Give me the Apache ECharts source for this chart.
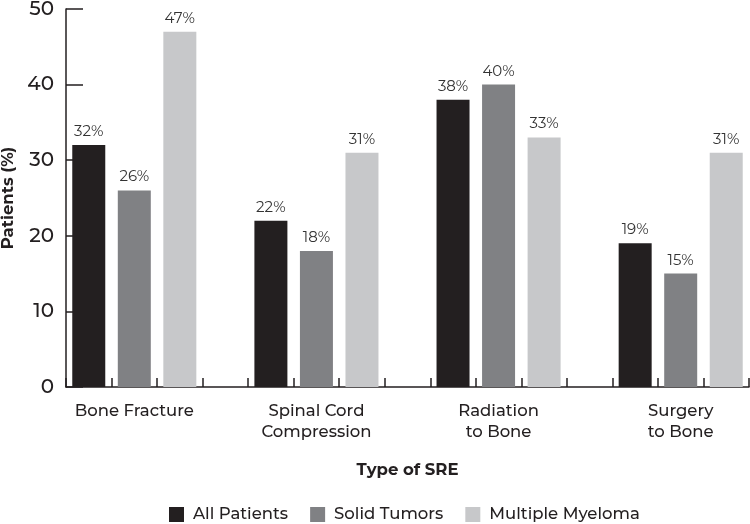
<!DOCTYPE html>
<html><head><meta charset="utf-8">
<script src="https://cdn.jsdelivr.net/npm/echarts@6/dist/echarts.min.js"></script>
<style>html,body{margin:0;padding:0;background:#fff}#c{width:750px;height:524px}</style>
</head><body><div id="c"></div>
<script>
const categories = ['Bone Fracture', 'Spinal Cord\nCompression', 'Radiation\nto Bone', 'Surgery\nto Bone'];
const seriesNames = ['All Patients', 'Solid Tumors', 'Multiple Myeloma'];
const allPatients = [32, 22, 38, 19];
const solidTumors = [26, 18, 40, 15];
const multipleMyeloma = [47, 31, 33, 31];
const yTicks = [0, 10, 20, 30, 40, 50];

const colors = ['#231f20', '#808184', '#c7c8ca'];
const values = [allPatients, solidTumors, multipleMyeloma];
// 15 slots: 3 bars per group + 1 gap slot between groups
const slotCount = categories.length * 4 - 1;
const slots = [];
for (let i = 0; i < slotCount; i++) slots.push('s' + i);
const labelAt = {};
categories.forEach((c, g) => { labelAt[g * 4 + 1] = c; });

const font = 'Montserrat, "Noto Sans", "DejaVu Sans", sans-serif';
const series = seriesNames.map((name, si) => {
  const data = slots.map(() => '-');
  values[si].forEach((v, g) => { data[g * 4 + si] = v; });
  return {
    name, type: 'bar', data, barWidth: 33, barGap: '-100%',
    itemStyle: { color: colors[si] },
    label: { show: true, position: 'top', distance: 6, formatter: '{c}%', color: '#333', fontSize: 15, fontFamily: font }
  };
});

const chart = echarts.init(document.getElementById('c'));
chart.setOption({
  animation: false,
  grid: { left: 66, right: 1, top: 9, bottom: 137, containLabel: false, outerBoundsMode: 'none' },
  legend: {
    bottom: -4, left: 164, itemWidth: 15, itemHeight: 15, itemGap: 22,
    icon: 'rect', textStyle: { fontSize: 16.5, fontWeight: 500, color: '#231f20', fontFamily: font, padding: [0, 0, 0, 4] },
    data: seriesNames
  },
  xAxis: {
    type: 'category', data: slots,
    name: 'Type of SRE', nameLocation: 'middle', nameGap: 75,
    nameTextStyle: { fontSize: 16.5, fontWeight: 'bold', color: '#231f20', fontFamily: font },
    axisLine: { lineStyle: { color: '#231f20', width: 1.5 } },
    axisTick: { show: true, inside: true, length: 9, interval: 0, alignWithLabel: false, lineStyle: { color: '#231f20', width: 1.5 } },
    axisLabel: {
      interval: 0, margin: 14, fontSize: 16.5, fontWeight: 500, lineHeight: 21, color: '#231f20', fontFamily: font,
      formatter: (v, i) => labelAt[i] || ''
    }
  },
  yAxis: {
    type: 'value', min: 0, max: 50, interval: 10,
    name: 'Patients (%)', nameLocation: 'middle', nameGap: 46, nameRotate: 90,
    nameTextStyle: { fontSize: 16.5, fontWeight: 'bold', color: '#231f20', fontFamily: font },
    splitLine: { show: false },
    axisLine: { show: true, lineStyle: { color: '#231f20', width: 1.5 } },
    axisTick: { show: true, inside: true, length: 17, lineStyle: { color: '#231f20', width: 1.5 } },
    axisLabel: { fontSize: 20, fontWeight: 500, color: '#231f20', margin: 12, fontFamily: font,
      formatter: v => yTicks.includes(v) ? String(v) : '' }
  },
  series
});
</script></body></html>
